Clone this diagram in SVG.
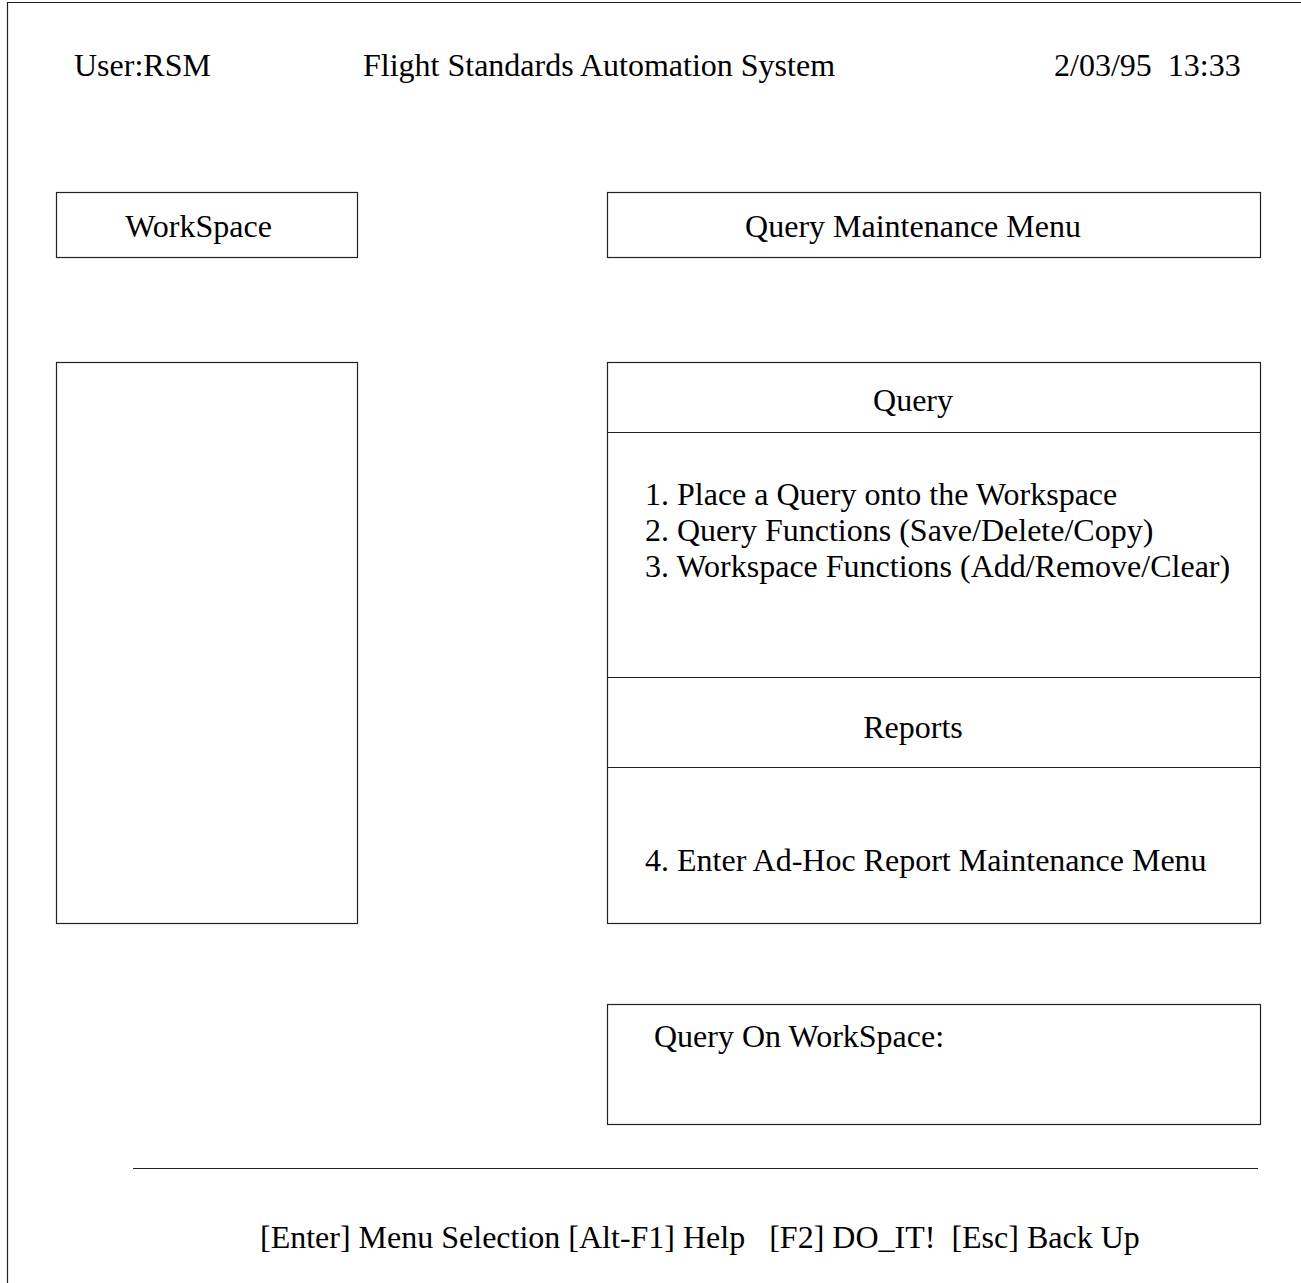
<svg xmlns="http://www.w3.org/2000/svg" width="1301" height="1283" viewBox="0 0 1301 1283">
<style>
text { font-family: "Liberation Serif", "Times New Roman", serif; font-size: 32px; fill: #000; white-space: pre; }
.box { fill: #fff; stroke: #222; stroke-width: 1.2; }
.ln { stroke: #222; stroke-width: 1.2; fill: none; }
.mid { text-anchor: middle; }
</style>
<rect x="0" y="0" width="1301" height="1283" fill="#fff"/>
<g id="frame">
<path class="ln" d="M7.5 1283 V2.5 H1301"/>
</g>
<g id="header">
<text x="74" y="76">User:RSM</text>
<text x="363" y="76">Flight Standards Automation System</text>
<text x="1054" y="76">2/03/95  13:33</text>
</g>
<g id="workspace-title">
<rect class="box" x="56.5" y="192.5" width="301" height="65"/>
<text class="mid" x="198.5" y="237">WorkSpace</text>
</g>
<g id="menu-title">
<rect class="box" x="607.5" y="192.5" width="653" height="65"/>
<text class="mid" x="913" y="237">Query Maintenance Menu</text>
</g>
<g id="workspace-area">
<rect class="box" x="56.5" y="362.5" width="301" height="561"/>
</g>
<g id="menu-panel">
<rect class="box" x="607.5" y="362.5" width="653" height="561"/>
<line class="ln" x1="607.5" y1="432.5" x2="1260.5" y2="432.5"/>
<line class="ln" x1="607.5" y1="677.5" x2="1260.5" y2="677.5"/>
<line class="ln" x1="607.5" y1="767.5" x2="1260.5" y2="767.5"/>
<text class="mid" x="913" y="411">Query</text>
<text x="645" y="505">1. Place a Query onto the Workspace</text>
<text x="645" y="541">2. Query Functions (Save/Delete/Copy)</text>
<text x="645" y="577">3. Workspace Functions (Add/Remove/Clear)</text>
<text class="mid" x="913" y="738">Reports</text>
<text x="645" y="871">4. Enter Ad-Hoc Report Maintenance Menu</text>
</g>
<g id="query-on-workspace">
<rect class="box" x="607.5" y="1004.5" width="653" height="120"/>
<text x="654" y="1047">Query On WorkSpace:</text>
</g>
<g id="connectors">
<line class="ln" x1="133" y1="1168.5" x2="1258" y2="1168.5"/>
</g>
<g id="footer">
<text x="260" y="1248">[Enter] Menu Selection [Alt-F1] Help   [F2] DO_IT!  [Esc] Back Up</text>
</g>
</svg>
